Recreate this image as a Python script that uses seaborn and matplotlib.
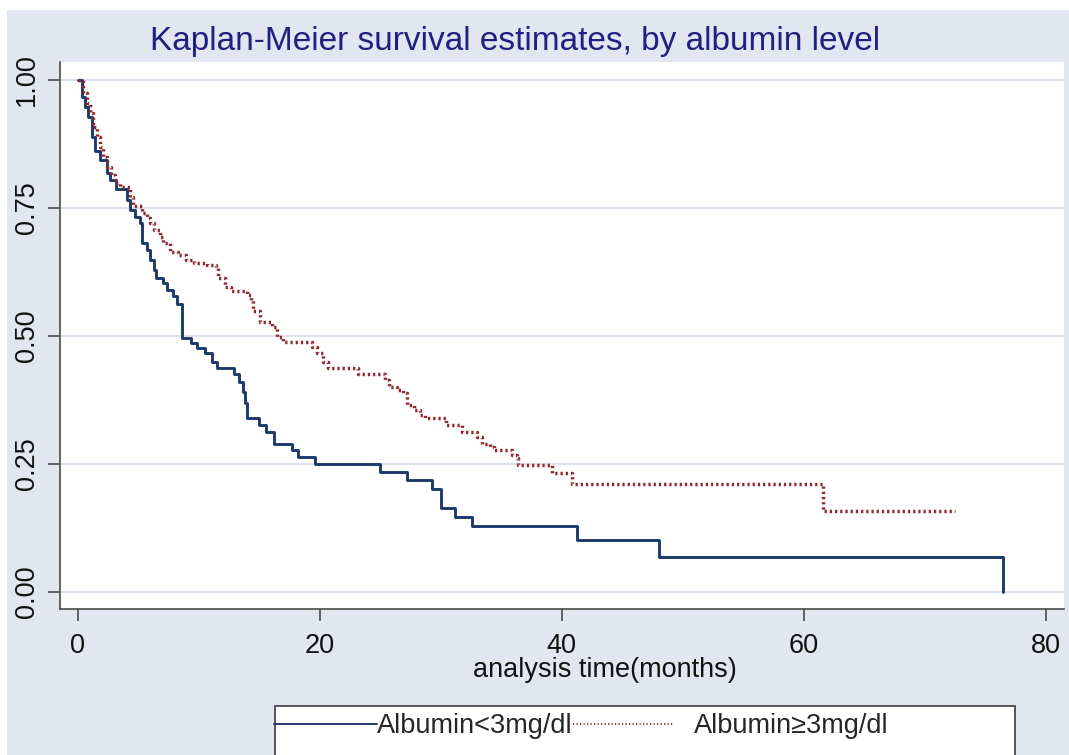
import numpy as np
import pandas as pd
import matplotlib
matplotlib.use("Agg")
import matplotlib.pyplot as plt
from matplotlib.lines import Line2D
from matplotlib.patches import Rectangle
import seaborn as sns

# Kaplan-Meier step values (time in months, survival)
low_time = [0, 0.35, 0.62, 0.9, 1.17, 1.45, 1.86, 2.4, 2.7, 3.2, 4.07, 4.3, 4.75,
            5.2, 5.3, 5.7, 6.0, 6.3, 6.5, 7.1, 7.4, 7.9, 8.2, 8.6, 9.4, 9.85,
            10.5, 11.1, 11.5, 12.9, 13.3, 13.7, 13.85, 14.0, 14.95, 15.6, 16.25,
            17.7, 18.25, 19.6, 25.0, 27.2, 29.3, 30.0, 31.2, 32.6, 41.25, 48.0, 76.5]
low_surv = [1.0, 0.967, 0.948, 0.928, 0.889, 0.862, 0.844, 0.818, 0.805, 0.787,
            0.766, 0.746, 0.733, 0.72, 0.681, 0.668, 0.648, 0.629, 0.613, 0.603,
            0.59, 0.578, 0.562, 0.496, 0.486, 0.477, 0.467, 0.449, 0.437, 0.426,
            0.41, 0.39, 0.369, 0.339, 0.326, 0.313, 0.289, 0.277, 0.263, 0.25,
            0.234, 0.219, 0.201, 0.165, 0.147, 0.129, 0.101, 0.068, 0.0]

high_time = [0, 0.48, 0.76, 1.03, 1.3, 1.6, 1.86, 2.1, 2.4, 2.8, 3.1, 3.5, 4.3,
             4.6, 5.3, 5.7, 6.0, 6.3, 6.8, 7.1, 7.6, 8.3, 9.0, 9.6, 10.7, 11.4,
             11.6, 12.2, 12.7, 14.0, 14.3, 14.5, 15.1, 16.05, 16.5, 17.0, 19.35,
             19.8, 20.3, 20.7, 23.2, 25.4, 25.7, 26.4, 26.9, 27.2, 27.8, 28.3,
             28.7, 30.4, 31.75, 33.0, 33.4, 34.1, 34.4, 35.9, 36.3, 36.4, 39.2,
             40.85, 61.6, 72.5]
high_surv = [1.0, 0.974, 0.954, 0.935, 0.909, 0.889, 0.87, 0.85, 0.83, 0.814,
             0.798, 0.79, 0.772, 0.753, 0.74, 0.73, 0.72, 0.707, 0.694, 0.681,
             0.665, 0.658, 0.648, 0.642, 0.639, 0.632, 0.613, 0.596, 0.587, 0.58,
             0.57, 0.549, 0.528, 0.518, 0.499, 0.489, 0.479, 0.466, 0.45, 0.437,
             0.426, 0.414, 0.401, 0.395, 0.388, 0.365, 0.355, 0.346, 0.339, 0.326,
             0.313, 0.303, 0.29, 0.284, 0.277, 0.268, 0.261, 0.248, 0.232, 0.211,
             0.159, 0.159]

labels = ["Albumin<3mg/dl", "Albumin\u22653mg/dl"]
x_ticks = [0, 20, 40, 60, 80]
y_ticks = [0.0, 0.25, 0.5, 0.75, 1.0]

navy = "#1d3a6b"
maroon = "#8e2a2f"
bg = "#e2e6f0"

sns.set_style("white")
plt.rcParams["font.family"] = ["Liberation Sans", "DejaVu Sans"]

W, H = 1069, 755
fig = plt.figure(figsize=(W / 100, H / 100), dpi=100, facecolor=bg)
ax = fig.add_axes([60 / W, 1 - 609 / H, (1064 - 60) / W, (609 - 62) / H])
ax.set_facecolor("white")

sns.lineplot(x=low_time, y=low_surv, ax=ax, color=navy, lw=2.1,
             drawstyle="steps-post", estimator=None, sort=False)
sns.lineplot(x=high_time, y=high_surv, ax=ax, color=maroon, lw=2.5,
             drawstyle="steps-post", estimator=None, sort=False,
             linestyle=(0, (0.65, 0.85)), dash_capstyle="butt")

ax.set_xlim(-1.45, 81.5)
ax.set_ylim(-0.033, 1.035)
ax.set_xticks(x_ticks)
ax.set_xticklabels([str(v) for v in x_ticks])
ax.set_yticks(y_ticks)
ax.set_yticklabels([f"{v:.2f}" for v in y_ticks], rotation=90, va="center")
ax.set_xlabel("")
ax.set_ylabel("")
ax.grid(axis="y", color="#dde1ee", lw=1.5)
ax.set_axisbelow(True)

for s in ["top", "right"]:
    ax.spines[s].set_visible(False)
for s in ["left", "bottom"]:
    ax.spines[s].set_color("#4a4a4a")
    ax.spines[s].set_linewidth(1.2)
ax.tick_params(axis="both", colors="#4a4a4a", labelcolor="#111111",
               labelsize=19.5, length=8.5, width=1.2, direction="out")
ax.tick_params(axis="x", pad=9)
ax.tick_params(axis="y", pad=6)
ax.tick_params(left=True, bottom=True)

fig.text(515 / W, 1 - 50 / H, "Kaplan-Meier survival estimates, by albumin level",
         ha="center", va="baseline", fontsize=24, color="#1e2082")
fig.text(605 / W, 1 - 670 / H, "analysis time(months)",
         ha="center", va="center", fontsize=19.5, color="#111111")

# legend box, cut off by the bottom of the figure
fig.patches.append(Rectangle((275 / W, -0.05), (1015 - 275) / W, (755 - 706) / H + 0.05,
                             transform=fig.transFigure, facecolor="white",
                             edgecolor="#4a4a4a", lw=1.3, zorder=1))
h1 = Line2D([], [], color=navy, lw=1.4)
h2 = Line2D([], [], color=maroon, lw=1.4, linestyle=(0, (0.6, 1.2)))
leg1 = fig.legend([h1], [labels[0]], loc="center left", bbox_to_anchor=(274 / W, 1 - 726 / H),
                  frameon=False, fontsize=19.5, borderpad=0, borderaxespad=0,
                  handlelength=3.8, handletextpad=0)
leg2 = fig.legend([h2], [labels[1]], loc="center left", bbox_to_anchor=(573 / W, 1 - 726 / H),
                  frameon=False, fontsize=19.5, borderpad=0, borderaxespad=0,
                  handlelength=3.7, handletextpad=0.75)
for lg in (leg1, leg2):
    lg.set_zorder(3)

# white strips along the top and left edge of the picture
fig.patches.append(Rectangle((0, 1 - 10 / H), 1, 10 / H, transform=fig.transFigure,
                             facecolor="white", edgecolor="none", zorder=0))
fig.patches.append(Rectangle((0, 0), 7 / W, 1, transform=fig.transFigure,
                             facecolor="white", edgecolor="none", zorder=0))

fig.savefig("out.png", dpi=100, facecolor=bg)
